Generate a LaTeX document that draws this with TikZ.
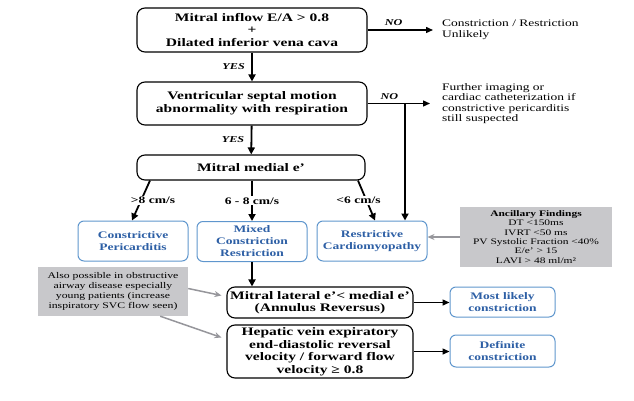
\documentclass[tikz,border=0pt]{standalone}
\usepackage{fontspec}
\setmainfont{Liberation Serif}[FakeStretch=1.35]
\usetikzlibrary{arrows.meta}
\definecolor{bluetxt}{RGB}{45,95,165}
\definecolor{blueline}{RGB}{95,150,205}
\definecolor{grayfill}{RGB}{200,200,203}
\definecolor{grayline}{RGB}{150,150,155}

\begin{document}
\begin{tikzpicture}[x=1pt,y=-1pt,
box/.style={draw,rounded corners=8pt,line width=1.1pt,align=center,inner sep=0pt,
  font=\bfseries\fontsize{11.5}{12.5}\selectfont},
bbox/.style={draw=blueline,rounded corners=6pt,line width=1pt,align=center,inner sep=0pt,
  text=bluetxt,minimum width=110pt,minimum height=40pt,font=\bfseries\fontsize{10}{12}\selectfont},
gbox/.style={fill=grayfill,align=center,inner sep=0pt,font=\fontsize{8.5}{9.4}\selectfont},
txt/.style={align=left,anchor=west,inner sep=0pt,font=\fontsize{10}{10.5}\selectfont},
yn/.style={font=\bfseries\itshape\fontsize{9}{10}\selectfont},
lab/.style={fill=white,inner sep=1pt,font=\bfseries\fontsize{10}{11}\selectfont},
arr/.style={line width=1.8pt,-{Triangle[length=7pt,width=7pt]}},
arrh/.style={line width=1.4pt,-{Triangle[length=7pt,width=6pt]}},
garr/.style={grayline,line width=1.5pt,-{Stealth[length=7pt,width=6pt]}}]
\useasboundingbox (0,0) rectangle (634,401);

% decision boxes
\node[box,minimum width=230pt,minimum height=44pt] (inflow) at (252,30)
  {Mitral inflow E/A > 0.8\\+\\Dilated inferior vena cava};
\node[box,minimum width=230pt,minimum height=43pt] (septal) at (252,103.5)
  {Ventricular septal motion\\abnormality with respiration};
\node[box,minimum width=228pt,minimum height=25pt] (medial) at (251,167.5)
  {Mitral medial e’};
\node[box,minimum width=186pt,minimum height=31pt] (lateral) at (320,302.5)
  {Mitral lateral e’< medial e’\\(Annulus Reversus)};
\node[box,minimum width=186pt,minimum height=53pt] (hepatic) at (320,351.5)
  {Hepatic vein expiratory\\end-diastolic reversal\\velocity / forward flow\\velocity ≥ 0.8};

% outcomes
\node[bbox] (cp) at (133,241) {Constrictive\\Pericarditis};
\node[bbox] (mcr) at (252,241.5) {Mixed\\Constriction\\Restriction};
\node[bbox] (rcm) at (372,241) {Restrictive\\Cardiomyopathy};
\node[bbox,minimum width=105pt,minimum height=30pt] (likely) at (502.5,302) {Most likely\\constriction};
\node[bbox,minimum width=105pt,minimum height=32pt] (definite) at (502.5,351) {Definite\\constriction};

% side notes
\node[txt] (unlikely) at (442,30) {Constriction / Restriction\\Unlikely};
\node[txt] (further) at (442,103.5) {Further imaging or\\cardiac catheterization if\\constrictive pericarditis\\still suspected};
\node[gbox,minimum width=152pt,minimum height=60pt] (ancillary) at (536,237)
  {\textbf{Ancillary Findings}\\DT <150ms\\IVRT <50 ms\\PV Systolic Fraction <40\%\\E/e’ > 15\\LAVI > 48 ml/m²};
\node[gbox,minimum width=150pt,minimum height=49pt,font=\fontsize{8.7}{10}\selectfont] (airway) at (113,291.5)
  {Also possible in obstructive\\airway disease especially\\young patients (increase\\inspiratory SVC flow seen)};

% arrows
\draw[arrh] (inflow.east) -- node[yn,above,pos=.4]{NO} ([xshift=-9pt]unlikely.west);
\draw[arr] (inflow) -- node[yn,left=3pt]{YES} (septal);
\draw[arrh] (septal.east) -- node[yn,above,pos=.35]{NO} ([xshift=-12pt]further.west);
\coordinate (drop) at (405,103.5);
\draw[arr] (drop) -- (drop |- rcm.north);
\draw[arr] (septal) -- node[yn,left=3pt]{YES} (medial);

\draw[arr] ([xshift=-101pt]medial.south) -- node[lab,xshift=12pt]{>8 cm/s} ([xshift=-1pt]cp.north);
\draw[arr] (medial.south -| mcr.north) -- node[lab]{6 - 8 cm/s} (mcr.north);
\draw[arr] ([xshift=107pt]medial.south) -- node[lab,xshift=-8pt]{<6 cm/s} ([xshift=3pt]rcm.north);

\draw[arr] (mcr.south) -- (mcr.south |- lateral.north);
\draw[garr] (ancillary.west) -- (ancillary.west -| rcm.east);
\draw[arrh] (lateral.east) -- (lateral.east -| likely.west);
\draw[arrh] (hepatic.east) -- (hepatic.east -| definite.west);
\draw[garr] ([yshift=3pt]airway.east) -- ([xshift=-5pt,yshift=7pt]lateral.west);
\draw[garr] ([xshift=-28pt]airway.south east) -- ([xshift=-5pt,yshift=14pt]hepatic.west);

\end{tikzpicture}
\end{document}
